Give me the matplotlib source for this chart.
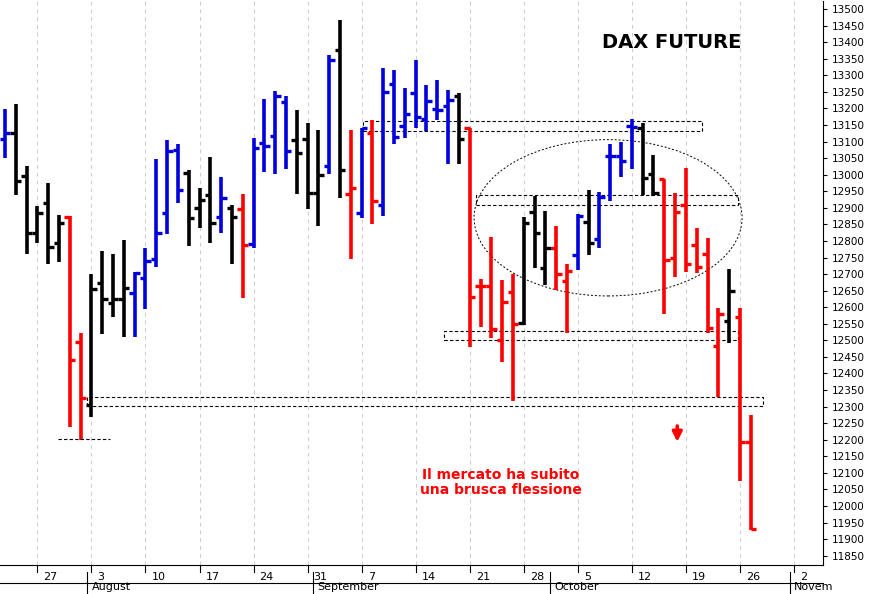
import numpy as np
import matplotlib.pyplot as plt
from matplotlib.patches import Rectangle, Ellipse
import datetime as dt

# daily bars, trading days from 22 Jul to 27 Oct
dates = ['2020-07-22', '2020-07-23', '2020-07-24', '2020-07-27', '2020-07-28', '2020-07-29', '2020-07-30', '2020-07-31',
         '2020-08-03', '2020-08-04', '2020-08-05', '2020-08-06', '2020-08-07',
         '2020-08-10', '2020-08-11', '2020-08-12', '2020-08-13', '2020-08-14',
         '2020-08-17', '2020-08-18', '2020-08-19', '2020-08-20', '2020-08-21',
         '2020-08-24', '2020-08-25', '2020-08-26', '2020-08-27', '2020-08-28',
         '2020-08-31', '2020-09-01', '2020-09-02', '2020-09-03', '2020-09-04',
         '2020-09-07', '2020-09-08', '2020-09-09', '2020-09-10', '2020-09-11',
         '2020-09-14', '2020-09-15', '2020-09-16', '2020-09-17', '2020-09-18',
         '2020-09-21', '2020-09-22', '2020-09-23', '2020-09-24', '2020-09-25',
         '2020-09-28', '2020-09-29', '2020-09-30', '2020-10-01', '2020-10-02',
         '2020-10-05', '2020-10-06', '2020-10-07', '2020-10-08', '2020-10-09',
         '2020-10-12', '2020-10-13', '2020-10-14', '2020-10-15', '2020-10-16',
         '2020-10-19', '2020-10-20', '2020-10-21', '2020-10-22', '2020-10-23',
         '2020-10-26', '2020-10-27']
highs = [13199, 13214, 13027, 12907, 12976, 12877, 12874, 12521,
         12699, 12771, 12762, 12804, 12705,
         12780, 13048, 13105, 13093, 13015,
         12961, 13054, 12994, 12910, 12943,
         13111, 13229, 13253, 13238, 13196,
         13157, 13136, 13361, 13467, 13136,
         13142, 13166, 13322, 13316, 13262,
         13346, 13271, 13286, 13256, 13247,
         13142, 12684, 12813, 12681, 12699,
         12871, 12937, 12892, 12846, 12732,
         12880, 12955, 12949, 13093, 13099,
         13169, 13157, 13060, 12988, 12946,
         13021, 12840, 12810, 12597, 12714,
         12597, 12274]
lows = [13051, 12940, 12762, 12795, 12732, 12738, 12238, 12199,
        12268, 12518, 12569, 12509, 12509,
        12596, 12720, 12822, 12916, 12786,
        12840, 12795, 12825, 12732, 12627,
        12780, 13009, 13003, 13018, 12943,
        12898, 12846, 13003, 12931, 12747,
        12868, 12852, 12874, 13093, 13111,
        13142, 13133, 13166, 13033, 13033,
        12479, 12539, 12506, 12434, 12316,
        12545, 12717, 12666, 12651, 12521,
        12711, 12759, 12780, 12922, 12994,
        13018, 12940, 12937, 12581, 12690,
        12705, 12702, 12521, 12328, 12491,
        12075, 11928]
opens = [13108, 13127, 12997, 12825, 12916, 12795, 12871, 12494,
         12304, 12672, 12612, 12624, 12642,
         12687, 12747, 12883, 13075, 13006,
         12901, 12940, 12871, 12901, 12898,
         12792, 13096, 13117, 13220, 13105,
         13108, 12946, 13027, 13376, 12943,
         12883, 13127, 12910, 13274, 13148,
         13247, 13169, 13199, 13208, 13238,
         13142, 12663, 12663, 12500, 12645,
         12551, 12889, 12717, 12780, 12678,
         12759, 12858, 12807, 13057, 13057,
         13148, 13142, 13003, 12988, 12750,
         12910, 12789, 12762, 12482, 12557,
         12569, 12193]
closes = [13127, 12982, 12825, 12883, 12783, 12855, 12440, 12325,
          12654, 12624, 12624, 12657, 12702,
          12741, 12825, 13072, 12955, 12868,
          12925, 12855, 12931, 12871, 12789,
          13081, 13087, 13238, 13072, 13066,
          12946, 13000, 13346, 13015, 12961,
          13142, 12922, 13250, 13114, 13184,
          13175, 13223, 13196, 13226, 13108,
          12630, 12663, 12533, 12615, 12548,
          12855, 12825, 12780, 12699, 12708,
          12874, 12795, 12934, 13057, 13042,
          13145, 12991, 12946, 12744, 12886,
          12732, 12720, 12536, 12581, 12648,
          12193, 11931]
# b = blue, k = black, r = red
bar_colors = list('bkkkkkrr' 'kkkkb' 'bbbbk' 'kkbkr' 'bbbbk' 'kkbkr'
                  'brbbb' 'bbbbk' 'rrrrr' 'kkkrr' 'bkbbb' 'bkkrr' 'rrrrk' 'rr')

color_map = {'b': '#0000dd', 'k': 'black', 'r': '#ff0000'}
day_dates = [dt.date.fromisoformat(d) for d in dates]

fig = plt.figure(figsize=(8.72, 5.94), dpi=100)
ax = fig.add_axes([0.0, 0.049, 0.944, 0.949])

x = np.arange(len(dates))
cols = [color_map[c] for c in bar_colors]
ax.vlines(x, lows, highs, colors=cols, lw=2.6)
ax.hlines(opens, x - 0.5, x, colors=cols, lw=2.4)
ax.hlines(closes, x, x + 0.5, colors=cols, lw=2.4)

# trading-day positions of Mondays (continue past the data)
mondays = ['27', '3', '10', '17', '24', '31', '7', '14', '21', '28', '5', '12', '19', '26', '2']
monday_pos = [3, 8, 13, 18, 23, 28, 33, 38, 43, 48, 53, 58, 63, 68, 73]
for p in monday_pos:
    ax.axvline(p, color='#cccccc', lw=0.7, ls=(0, (4, 4)), zorder=0)

ax.set_xlim(-0.46, 75.7)
ax.set_ylim(11822, 13524)
ax.set_xticks([])
ax.yaxis.tick_right()
ax.set_yticks(np.arange(11850, 13501, 50))
ax.tick_params(axis='y', labelsize=7.5, length=3)
for s in ['top', 'left']:
    ax.spines[s].set_visible(False)

# bottom date axis
trans = ax.get_xaxis_transform()
for p, lab in zip(monday_pos, mondays):
    ax.plot([p, p], [0, -0.012], transform=trans, color='black', lw=0.8, clip_on=False)
    ax.text(p + 0.55, -0.022, lab, transform=trans, fontsize=8, va='center', clip_on=False)
months = [('August', 8), ('September', 28.9), ('October', 50.8), ('Novem', 73)]
for lab, p in months:
    ax.plot([p - 0.4, p - 0.4], [-0.012, -0.05], transform=trans, color='black', lw=0.8, clip_on=False)
    ax.text(p, -0.04, lab, transform=trans, fontsize=8, va='center', clip_on=False)
ax.plot([-0.46, 75.7], [-0.033, -0.033], transform=trans, color='black', lw=0.8, clip_on=False)

# support / resistance bands
bands = [(33.1, 64.5, 13133, 13163), (43.6, 67.8, 12910, 12940),
         (40.6, 67.8, 12500, 12527), (7.6, 70.1, 12301, 12328)]
for x0, x1, y0, y1 in bands:
    ax.add_patch(Rectangle((x0, y0), x1 - x0, y1 - y0, fill=False, ls=(0, (3, 2)), lw=0.8, ec='black'))
ax.plot([4.9, 9.7], [12202, 12202], color='black', lw=0.8, ls=(0, (3, 2)))
ax.add_patch(Ellipse((55.8, 12870), 24.8, 472, fill=False, ls=(0, (2, 2)), lw=0.7, ec='black'))

ax.text(61.7, 13400, 'DAX FUTURE', fontsize=14, fontweight='bold', ha='center', va='center')
ax.text(45.9, 12070, 'Il mercato ha subito\nuna brusca flessione', color='#ff0000',
        fontsize=10, fontweight='bold', ha='center', va='center', linespacing=1.1)
ax.annotate('', xy=(62.2, 12185), xytext=(62.2, 12250),
            arrowprops=dict(arrowstyle='-|>', color='#ff0000', lw=2.5, mutation_scale=14))

fig.savefig('out.png', dpi=100)
